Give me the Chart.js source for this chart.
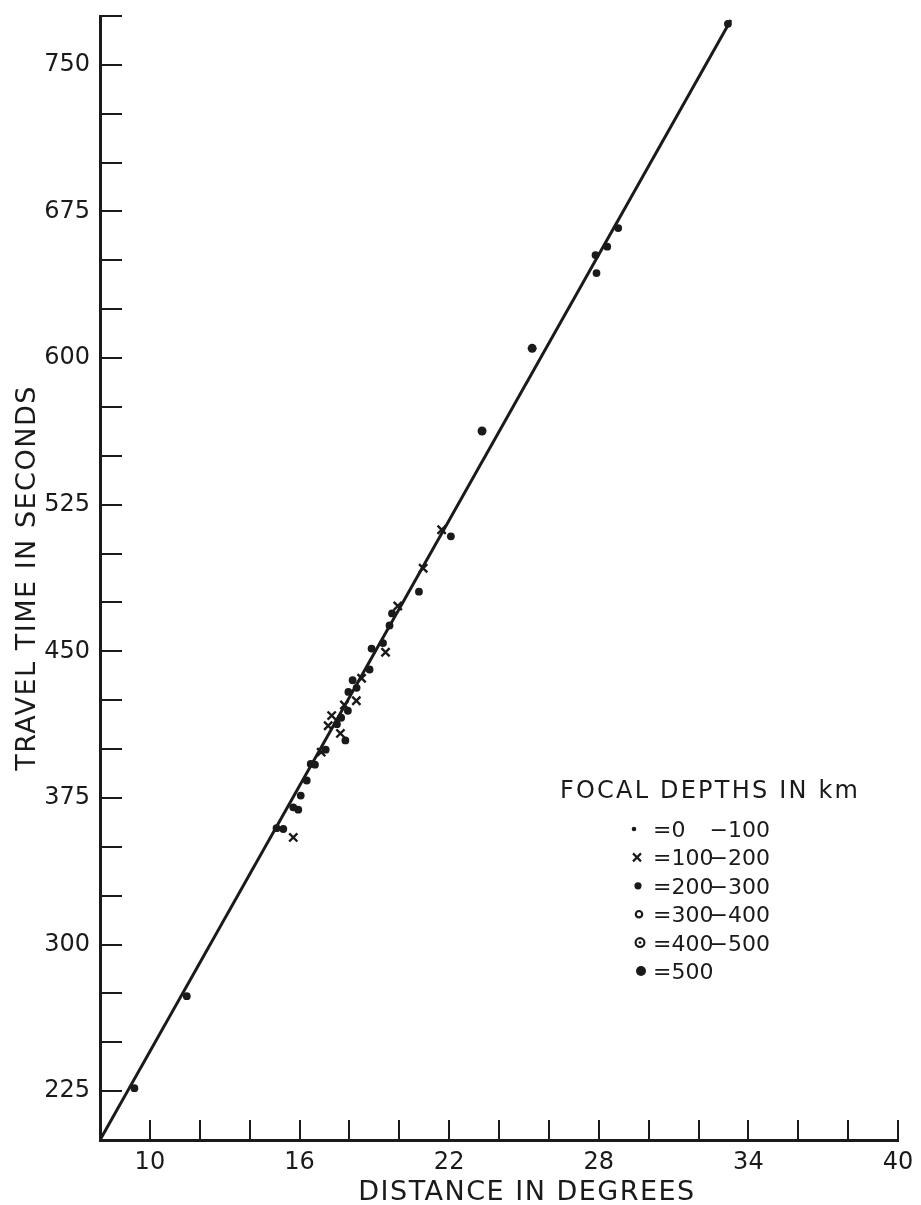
<!DOCTYPE html>
<html>
<head>
<meta charset="utf-8">
<title>Travel time against distance</title>
<script src="https://cdn.jsdelivr.net/npm/chart.js@4.4.1/dist/chart.umd.min.js"></script>
<style>
  html, body { margin: 0; padding: 0; background: #ffffff; }
  #wrap { width: 921px; height: 1205px; }
</style>
</head>
<body>
<div id="wrap"><canvas id="c" width="921" height="1205"></canvas></div>
<script>
// Observed arrivals, grouped by focal depth class (distance in degrees, travel time in seconds)
const shallowDist = [33.18, 28.78, 28.34, 27.87, 27.91, 22.07, 20.79, 19.71, 19.61, 19.35,
                     18.89, 18.81, 18.13, 18.29, 17.96, 17.94, 17.67, 17.50, 17.84, 17.05,
                     16.45, 16.62, 16.29, 16.05, 15.95, 15.75, 15.08, 15.35, 11.48, 9.38];
const shallowTime = [771.0, 666.5, 657.0, 652.7, 643.5, 508.8, 480.5, 469.4, 463.2, 454.2,
                     451.4, 440.7, 435.2, 431.3, 429.2, 419.6, 416.0, 412.7, 404.4, 399.7,
                     392.4, 392.0, 383.9, 376.2, 369.0, 370.2, 359.5, 359.1, 273.6, 226.5];

const midDist = [21.70, 20.96, 19.94, 19.45, 18.49, 18.28, 17.80, 17.29, 17.15, 17.64, 16.87, 15.75];
const midTime = [512.2, 492.5, 473.2, 449.5, 436.2, 424.7, 422.5, 417.1, 411.9, 408.0, 398.4, 354.8];

const deepDist = [25.33, 23.32];
const deepTime = [605.0, 562.7];

// Fitted travel-time line (end points)
const fitDist = [8, 33.3];
const fitTime = [200, 773];

// Axis ranges and labelled ticks
const distRange = [8, 40];
const distLabels = [10, 16, 22, 28, 34, 40];
const timeRange = [200, 775];
const timeLabels = [225, 300, 375, 450, 525, 600, 675, 750];

// Key for the focal depth classes (km)
const keyTitle = 'FOCAL DEPTHS IN km';
const depthFrom = ['0', '100', '200', '300', '400', '500'];
const depthTo = ['100', '200', '300', '400', '500', ''];

const INK = '#1a1a1a';
const FONT = '"DejaVu Sans", "Liberation Sans", sans-serif';

function pairs(xs, ys) { return xs.map((x, i) => ({ x: x, y: ys[i] })); }

// Draws axis captions and the depth key
const captions = {
  id: 'captions',
  afterDraw(chart) {
    const { ctx, chartArea } = chart;
    ctx.save();
    ctx.fillStyle = INK;
    ctx.strokeStyle = INK;
    ctx.font = '27px ' + FONT;
    ctx.letterSpacing = '1.5px';
    ctx.textAlign = 'center';
    ctx.textBaseline = 'alphabetic';
    // horizontal caption
    ctx.fillText('DISTANCE IN DEGREES', chartArea.left + 427, chartArea.bottom + 60);
    // vertical caption
    ctx.save();
    ctx.translate(35, (chartArea.top + chartArea.bottom) / 2);
    ctx.rotate(-Math.PI / 2);
    ctx.fillText('TRAVEL TIME IN SECONDS', 0, 0);
    ctx.restore();

    // depth key
    ctx.font = '24px ' + FONT;
    ctx.letterSpacing = '2.2px';
    ctx.textAlign = 'left';
    ctx.fillText(keyTitle, 560, 798);

    ctx.font = '22px ' + FONT;
    ctx.letterSpacing = '0px';
    const mx = 637;
    for (let i = 0; i < depthFrom.length; i++) {
      const cy = 829 + i * 28.4;
      ctx.lineWidth = 2.2;
      ctx.beginPath();
      if (i === 0) {
        ctx.arc(mx - 3, cy, 2.3, 0, Math.PI * 2); ctx.fill();
      } else if (i === 1) {
        ctx.moveTo(mx - 4, cy - 4); ctx.lineTo(mx + 4, cy + 4);
        ctx.moveTo(mx + 4, cy - 4); ctx.lineTo(mx - 4, cy + 4); ctx.stroke();
      } else if (i === 2) {
        ctx.arc(mx + 1, cy, 3.6, 0, Math.PI * 2); ctx.fill();
      } else if (i === 3) {
        ctx.arc(mx + 2, cy, 3.2, 0, Math.PI * 2); ctx.stroke();
      } else if (i === 4) {
        ctx.arc(mx + 3, cy, 4.4, 0, Math.PI * 2); ctx.stroke();
        ctx.beginPath(); ctx.arc(mx + 3, cy, 1.4, 0, Math.PI * 2); ctx.fill();
      } else {
        ctx.arc(mx + 4, cy, 5, 0, Math.PI * 2); ctx.fill();
      }
      ctx.textAlign = 'left';
      ctx.fillText('=' + depthFrom[i], 653, cy + 8);
      if (depthTo[i]) {
        ctx.textAlign = 'right';
        ctx.fillText('\u2212' + depthTo[i], 770, cy + 8);
      }
    }
    ctx.restore();
  }
};

new Chart(document.getElementById('c'), {
  type: 'scatter',
  data: {
    datasets: [
      {
        label: '0 - 100',
        data: pairs(shallowDist, shallowTime),
        pointStyle: 'circle',
        pointRadius: 3.9,
        backgroundColor: INK,
        borderColor: INK,
        borderWidth: 0,
        order: 1
      },
      {
        label: '100 - 200',
        data: pairs(midDist, midTime),
        pointStyle: 'crossRot',
        pointRadius: 5.8,
        borderColor: INK,
        borderWidth: 2.4,
        order: 1
      },
      {
        label: '200 - 300',
        data: pairs(deepDist, deepTime),
        pointStyle: 'circle',
        pointRadius: 4.5,
        backgroundColor: INK,
        borderColor: INK,
        borderWidth: 0,
        order: 1
      },
      {
        type: 'line',
        label: 'fit',
        data: pairs(fitDist, fitTime),
        borderColor: INK,
        borderWidth: 3,
        pointRadius: 0,
        fill: false,
        order: 5
      }
    ]
  },
  options: {
    responsive: false,
    animation: false,
    devicePixelRatio: 1,
    layout: { padding: { left: 0, right: 23, top: 16, bottom: 0 } },
    plugins: { legend: { display: false }, tooltip: { enabled: false } },
    scales: {
      x: {
        type: 'linear',
        min: distRange[0],
        max: distRange[1],
        border: { display: true, color: INK, width: 3 },
        grid: { drawOnChartArea: false, drawTicks: true, tickLength: -20, color: INK, lineWidth: 2 },
        ticks: {
          stepSize: 2,
          autoSkip: false,
          maxRotation: 0,
          padding: 28,
          color: INK,
          font: { family: FONT, size: 24 },
          callback: v => distLabels.includes(v) ? String(v) : ''
        },
        afterFit: s => { s.height = 65; s.paddingLeft = 0; s.paddingRight = 0; }
      },
      y: {
        type: 'linear',
        min: timeRange[0],
        max: timeRange[1],
        border: { display: true, color: INK, width: 3 },
        grid: { drawOnChartArea: false, drawTicks: true, tickLength: -22, color: INK, lineWidth: 2 },
        ticks: {
          stepSize: 25,
          autoSkip: false,
          padding: 32,
          color: INK,
          font: { family: FONT, size: 24 },
          callback: v => timeLabels.includes(v) ? String(v) : ''
        },
        afterFit: s => { s.width = 100; s.paddingTop = 0; s.paddingBottom = 0; }
      }
    }
  },
  plugins: [captions]
});
</script>
</body>
</html>
